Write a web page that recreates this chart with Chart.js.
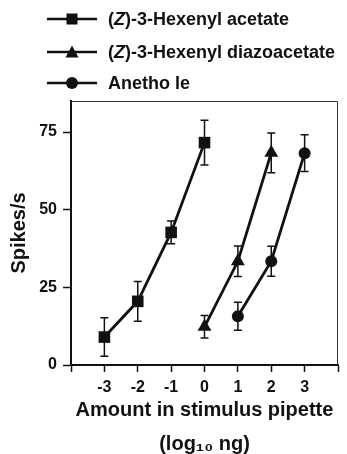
<!DOCTYPE html>
<html>
<head>
<meta charset="utf-8">
<script src="https://cdn.jsdelivr.net/npm/chart.js@4"></script>
<style>
  html, body { margin: 0; padding: 0; background: #fff; }
  #wrap { position: relative; width: 347px; height: 454px; }
  #legend { position: absolute; left: 47px; top: 0; font: bold 18px "Liberation Sans", Arial, sans-serif; color: #111; }
  .row { position: absolute; left: 0; height: 20px; display: flex; align-items: center; white-space: nowrap; }
  .row svg { margin-right: 9px; }
</style>
</head>
<body>
<div id="wrap">
  <canvas id="chart" width="347" height="454"></canvas>
  <div id="legend"></div>
</div>
<script>
// x positions (log10 ng), mean responses (spikes/s) and SEM
const acetateX = [-3, -2, -1, 0];
const acetateY = [9, 20.5, 42.7, 71.6];
const acetateErr = [6.2, 6.4, 3.7, 7.2];

const diazoX = [0, 1, 2];
const diazoY = [12.3, 33.4, 68.3];
const diazoErr = [3.6, 4.9, 6.4];

const anetholeX = [1, 2, 3];
const anetholeY = [15.7, 33.4, 68.2];
const anetholeErr = [4.5, 4.8, 5.9];

const seriesNames = ["(Z)-3-Hexenyl acetate", "(Z)-3-Hexenyl diazoacetate", "Anetho le"];
const xTicks = [-4, -3, -2, -1, 0, 1, 2, 3, 4];
const xTickLabels = ["", "-3", "-2", "-1", "0", "1", "2", "3", ""];
const yTicks = [0, 25, 50, 75];

const FONT = "'Liberation Sans', Arial, sans-serif";
const INK = "#111";

function toPoints(xs, ys, errs) {
  return xs.map((x, i) => ({ x: x, y: ys[i], err: errs[i] }));
}

// --- Legend (HTML, so the Z can be italic) ---
const legendEl = document.getElementById("legend");
const legendMarkers = [
  '<rect x="19.5" y="2.5" width="11" height="11" fill="' + INK + '"/>',
  '<polygon points="25,1.5 31.5,13.5 18.5,13.5" fill="' + INK + '"/>',
  '<circle cx="25" cy="8" r="6" fill="' + INK + '"/>'
];
const rowTops = [9, 42, 73];
seriesNames.forEach((name, i) => {
  const row = document.createElement("div");
  row.className = "row";
  row.style.top = rowTops[i] + "px";
  const label = name.replace("(Z)", "(<i>Z</i>)");
  row.innerHTML =
    '<svg width="52" height="16"><line x1="0" y1="8" x2="50" y2="8" stroke="' + INK + '" stroke-width="2.5"/>' +
    legendMarkers[i] + "</svg><span>" + label + "</span>";
  legendEl.appendChild(row);
});

// --- Plugins ---
const errorBars = {
  id: "errorBars",
  beforeDatasetsDraw(chart) {
    const { ctx, scales } = chart;
    ctx.save();
    ctx.strokeStyle = INK;
    ctx.lineWidth = 1.5;
    chart.data.datasets.forEach(ds => {
      ds.data.forEach(p => {
        const x = scales.x.getPixelForValue(p.x);
        const yTop = scales.y.getPixelForValue(p.y + p.err);
        const yBot = scales.y.getPixelForValue(p.y - p.err);
        ctx.beginPath();
        ctx.moveTo(x, yTop); ctx.lineTo(x, yBot);
        ctx.moveTo(x - 4, yTop); ctx.lineTo(x + 4, yTop);
        ctx.moveTo(x - 4, yBot); ctx.lineTo(x + 4, yBot);
        ctx.stroke();
      });
    });
    ctx.restore();
  }
};

const frame = {
  id: "frame",
  afterDraw(chart) {
    const { ctx, chartArea } = chart;
    ctx.save();
    ctx.strokeStyle = "#333";
    ctx.lineWidth = 1;
    ctx.beginPath();
    ctx.moveTo(chartArea.left, chartArea.top + 0.5);
    ctx.lineTo(chartArea.right - 0.5, chartArea.top + 0.5);
    ctx.lineTo(chartArea.right - 0.5, chartArea.bottom);
    ctx.stroke();
    ctx.restore();
  }
};

function lineSet(label, pts, style, radius) {
  return {
    label: label,
    data: pts,
    borderColor: INK,
    backgroundColor: INK,
    borderWidth: 2.8,
    pointStyle: style,
    pointRadius: radius,
    pointBackgroundColor: INK,
    pointBorderColor: INK,
    pointBorderWidth: 0,
    tension: 0
  };
}

new Chart(document.getElementById("chart"), {
  type: "line",
  data: {
    datasets: [
      lineSet(seriesNames[0], toPoints(acetateX, acetateY, acetateErr), "rect", 8.2),
      lineSet(seriesNames[1], toPoints(diazoX, diazoY, diazoErr), "triangle", 8),
      lineSet(seriesNames[2], toPoints(anetholeX, anetholeY, anetholeErr), "circle", 6)
    ]
  },
  options: {
    responsive: false,
    animation: false,
    layout: { padding: { top: 101, right: 9, left: 0, bottom: 0 } },
    plugins: { legend: { display: false }, tooltip: { enabled: false } },
    scales: {
      x: {
        type: "linear",
        min: -4,
        max: 4,
        afterBuildTicks: axis => { axis.ticks = xTicks.map(v => ({ value: v })); },
        afterFit: axis => { axis.height = 89; },
        ticks: {
          padding: 6,
          color: INK,
          font: { family: FONT, size: 16, weight: "bold" },
          callback: (v) => xTickLabels[xTicks.indexOf(v)]
        },
        grid: { drawOnChartArea: false, drawTicks: true, tickLength: 7, tickColor: INK, tickWidth: 1.5 },
        border: { display: true, color: INK, width: 2 },
        title: {
          display: true,
          text: ["Amount in stimulus pipette", "(log\u2081\u2080 ng)"],
          color: INK,
          font: { family: FONT, size: 20, weight: "bold", lineHeight: 1.7 },
          padding: { top: 0, bottom: -7 }
        }
      },
      y: {
        min: 0,
        max: 85,
        afterBuildTicks: axis => { axis.ticks = yTicks.map(v => ({ value: v })); },
        afterFit: axis => { axis.width = 71; },
        ticks: {
          padding: 6,
          color: INK,
          font: { family: FONT, size: 16, weight: "bold" }
        },
        grid: { drawOnChartArea: false, drawTicks: true, tickLength: 8, tickColor: INK, tickWidth: 1.5 },
        border: { display: true, color: INK, width: 2 },
        title: {
          display: true,
          text: "Spikes/s",
          color: INK,
          font: { family: FONT, size: 20, weight: "bold" },
          padding: { top: 7, bottom: 0 }
        }
      }
    }
  },
  plugins: [errorBars, frame]
});
</script>
</body>
</html>
